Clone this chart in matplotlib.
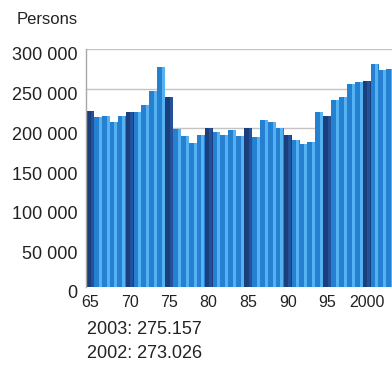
import matplotlib
matplotlib.use("Agg")
import matplotlib.pyplot as plt
import matplotlib.transforms as mtransforms

years = list(range(1965, 2004))
values = [222000, 214000, 216000, 208000, 216000, 220000, 220000, 230000, 247000, 277000,
          240000, 199000, 190000, 181000, 191000, 200000, 195000, 191000, 198000, 190000,
          200000, 189000, 211000, 208000, 200000, 192000, 185000, 180000, 183000, 220000,
          216000, 236000, 240000, 256000, 259000, 260000, 281000, 273026, 275157]
dark_years = [1965, 1970, 1975, 1980, 1985, 1990, 1995, 2000]
xtick_pos = [1965, 1970, 1975, 1980, 1985, 1990, 1995, 2000]
xtick_labels = ["65", "70", "75", "80", "85", "90", "95", "2000"]
ytick_pos = [0, 50000, 100000, 150000, 200000, 250000, 300000]
ytick_labels = ["0", "50 000", "100 000", "150 000", "200 000", "250 000", "300 000"]
unit_label = "Persons"
notes = ["2003: 275.157", "2002: 273.026"]

plt.rcParams['font.family'] = ['Liberation Sans', 'DejaVu Sans']

W, H = 392, 369
fig = plt.figure(figsize=(W / 100, H / 100), dpi=100)
ax_left, ax_right, ax_top, ax_bottom = 86, 392, 49, 287
ax = fig.add_axes([ax_left / W, 1 - ax_bottom / H, (ax_right - ax_left) / W, (ax_bottom - ax_top) / H])

base_c, light_c, dark_c, dark_light = "#2580d2", "#55b2f2", "#1b3f7c", "#23529a"
for yr, v in zip(years, values):
    is_dark = yr in dark_years
    ax.bar(yr, v, width=1.0, color=dark_c if is_dark else base_c, zorder=2, linewidth=0)
    ax.bar(yr + 0.28, v, width=0.38, color=dark_light if is_dark else light_c, zorder=2, linewidth=0)

ax.set_xlim(1964.49, 2003.2)
ax.set_ylim(0, 300000)
for yv in ytick_pos[1:]:
    ax.axhline(yv, color="#c4c4c4", lw=1.0, zorder=1)

for s in ["top", "right", "bottom"]:
    ax.spines[s].set_visible(False)
ax.spines["left"].set_color("#a8a8a8")
ax.spines["left"].set_linewidth(1.0)

ax.set_yticks(ytick_pos)
ax.set_yticklabels(ytick_labels, fontsize=13, color="#222222")
ax.set_xticks(xtick_pos)
ax.set_xticklabels(xtick_labels, fontsize=11.5, color="#222222")
ax.tick_params(axis="both", length=0)
ax.tick_params(axis="y", pad=6)
ax.tick_params(axis="x", pad=6)
off = mtransforms.ScaledTranslation(0, -5 / 100, fig.dpi_scale_trans)
for lab in ax.get_yticklabels():
    lab.set_transform(lab.get_transform() + off)

fig.text(78 / W, 1 - 20 / H, unit_label, ha="right", va="center", fontsize=12, color="#222222")
fig.text(87 / W, 1 - 330 / H, notes[0], ha="left", va="center", fontsize=13, color="#222222")
fig.text(87 / W, 1 - 354 / H, notes[1], ha="left", va="center", fontsize=13, color="#222222")

fig.savefig("out.png", dpi=100)
